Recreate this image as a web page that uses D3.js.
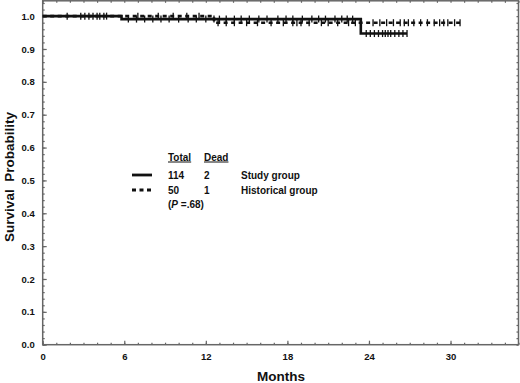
<!DOCTYPE html>
<html>
<head>
<meta charset="utf-8">
<script src="https://cdn.jsdelivr.net/npm/d3@7"></script>
<style>
  body { margin: 0; background: #fff; }
  svg { display: block; }
  text { font-family: "Liberation Sans", Arial, sans-serif; font-weight: bold; fill: #111; }
</style>
</head>
<body>
<svg id="chart" width="520" height="383"></svg>
<script>
// Kaplan-Meier steps
const studyTime = [0, 5.8, 23.4, 26.8];
const studySurv = [1.0, 0.991, 0.947, 0.947];
const studyCensor = [1.8, 2.8, 3.1, 3.4, 3.7, 4.0, 4.2, 4.5, 4.7,
  6.3, 6.9, 7.5, 8.1, 8.7, 9.3, 10.0, 10.7, 11.3, 12.0, 12.6, 13.0, 13.5, 14.1,
  14.6, 15.2, 15.9, 16.5, 17.3, 17.9, 18.4, 19.1, 19.8, 20.3, 20.8, 21.5, 22.0, 22.4, 22.8,
  23.8, 24.1, 24.4, 24.7, 25.0, 25.2, 25.4, 25.6, 25.9, 26.2, 26.5, 26.8];

const histTime = [0, 12.6, 30.7];
const histSurv = [1.0, 0.98, 0.98];
const histCensor = [7.0, 8.5, 9.6, 10.6, 11.5,
  12.9, 13.5, 14.1, 15.0, 15.8, 16.8, 17.7, 18.4, 18.7, 19.0, 19.6, 20.5, 21.0, 21.7,
  22.5, 23.0, 24.3, 24.8, 25.3, 25.8, 26.3, 26.6, 26.9, 27.3, 27.8, 28.3, 28.8,
  29.2, 29.5, 29.8, 30.3, 30.7];

const xTicks = [0, 6, 12, 18, 24, 30];
const yTicks = [0, 0.1, 0.2, 0.3, 0.4, 0.5, 0.6, 0.7, 0.8, 0.9, 1.0];

const legendHead = ["Total", "Dead"];
const legendRows = [
  {name: "Study group", total: "114", dead: "2", dash: null},
  {name: "Historical group", total: "50", dead: "1", dash: "4,3.5"}
];

let svg = d3.select("#chart");
let plotL = 42.7, plotR = 518.5, plotT = 0.8, plotB = 344.7;

let x = d3.scaleLinear().domain([0, 35]).range([plotL, plotR]);
let y = d3.scaleLinear().domain([0, 1.05]).range([plotB, -0.3]);

// frame with ticks on all four sides
let axisColor = "#666";
let minorX = d3.range(0, 36, 1);
let minorY = d3.range(0, 1.051, 0.02);

function styleAxis(g) {
  g.select(".domain").remove();
  g.selectAll("line").attr("stroke", axisColor).attr("stroke-width", 1.2);
  g.selectAll("text").attr("font-size", "9.5px").attr("font-family", "Liberation Sans, Arial, sans-serif")
    .attr("font-weight", "bold").attr("fill", "#111");
}

svg.append("g").attr("transform", `translate(0,${plotB})`)
  .call(d3.axisTop(x).tickValues(minorX).tickSize(2).tickFormat(""))
  .call(styleAxis);
svg.append("g").attr("transform", `translate(0,${plotB})`)
  .call(d3.axisBottom(x).tickValues(xTicks).tickSize(0).tickPadding(9).tickFormat(d3.format("d")))
  .call(styleAxis);
svg.append("g").attr("transform", `translate(0,${plotB})`)
  .call(d3.axisTop(x).tickValues(xTicks).tickSize(4).tickFormat(""))
  .call(styleAxis);
svg.append("g").attr("transform", `translate(0,${plotT})`)
  .call(d3.axisBottom(x).tickValues(minorX).tickSize(2).tickFormat(""))
  .call(styleAxis);

svg.append("g").attr("transform", `translate(${plotL},0)`)
  .call(d3.axisRight(y).tickValues(minorY).tickSize(2).tickFormat(""))
  .call(styleAxis);
svg.append("g").attr("transform", `translate(${plotL},0)`)
  .call(d3.axisLeft(y).tickValues(yTicks).tickSize(0).tickPadding(8).tickFormat(d3.format(".1f")))
  .call(styleAxis);
svg.append("g").attr("transform", `translate(${plotL},0)`)
  .call(d3.axisRight(y).tickValues(yTicks).tickSize(4).tickFormat(""))
  .call(styleAxis);
svg.append("g").attr("transform", `translate(${plotR},0)`)
  .call(d3.axisLeft(y).tickValues(minorY).tickSize(2).tickFormat(""))
  .call(styleAxis);

svg.append("rect")
  .attr("x", plotL).attr("y", plotT)
  .attr("width", plotR - plotL).attr("height", plotB - plotT)
  .attr("fill", "none").attr("stroke", axisColor).attr("stroke-width", 1.5);

// axis titles
svg.append("text")
  .attr("x", 281).attr("y", 381)
  .attr("text-anchor", "middle").attr("font-size", "13.5px")
  .text("Months");
svg.append("text")
  .attr("transform", "translate(14,177) rotate(-90)")
  .attr("text-anchor", "middle").attr("font-size", "13.5px")
  .style("white-space", "pre")
  .text("Survival  Probability");

// survival curves
let line = d3.line().curve(d3.curveStepAfter).x(d => x(d[0])).y(d => y(d[1]));

function survAt(times, surv, t) {
  let i = d3.bisectRight(times, t) - 1;
  return surv[Math.max(0, i)];
}

function drawGroup(times, surv, censor, dash) {
  let pts = times.map((t, i) => [t, surv[i]]);
  svg.append("path")
    .datum(pts)
    .attr("d", line)
    .attr("fill", "none")
    .attr("stroke", "#111")
    .attr("stroke-width", 2.6)
    .attr("stroke-dasharray", dash);
  svg.append("g").selectAll("line")
    .data(censor)
    .join("line")
    .attr("x1", d => x(d)).attr("x2", d => x(d))
    .attr("y1", d => y(survAt(times, surv, d)) - 3.5)
    .attr("y2", d => y(survAt(times, surv, d)) + 3.5)
    .attr("stroke", "#111")
    .attr("stroke-width", 1.3);
}

drawGroup(histTime, histSurv, histCensor, "4,3.5");
drawGroup(studyTime, studySurv, studyCensor, null);

// legend
let lg = svg.append("g").attr("font-size", "10px");
let colTotal = 168, colDead = 204, colName = 241;
lg.selectAll(".head")
  .data(legendHead)
  .join("text")
  .attr("class", "head")
  .attr("x", (d, i) => i === 0 ? colTotal : colDead)
  .attr("y", 160.5)
  .attr("text-decoration", "underline")
  .text(d => d);

let rows = lg.selectAll(".row")
  .data(legendRows)
  .join("g")
  .attr("class", "row")
  .attr("transform", (d, i) => `translate(0,${175 + i * 15})`);
rows.append("line")
  .attr("x1", 132).attr("x2", 152)
  .attr("stroke", "#111").attr("stroke-width", 2.8)
  .attr("stroke-dasharray", d => d.dash);
rows.append("text").attr("x", colTotal).attr("y", 4).text(d => d.total);
rows.append("text").attr("x", colDead).attr("y", 4).text(d => d.dead);
rows.append("text").attr("x", colName).attr("y", 4).text(d => d.name);

let pText = lg.append("text").attr("x", colTotal).attr("y", 208);
pText.append("tspan").text("(");
pText.append("tspan").attr("font-style", "italic").text("P");
pText.append("tspan").text(" =.68)");
</script>
</body>
</html>
